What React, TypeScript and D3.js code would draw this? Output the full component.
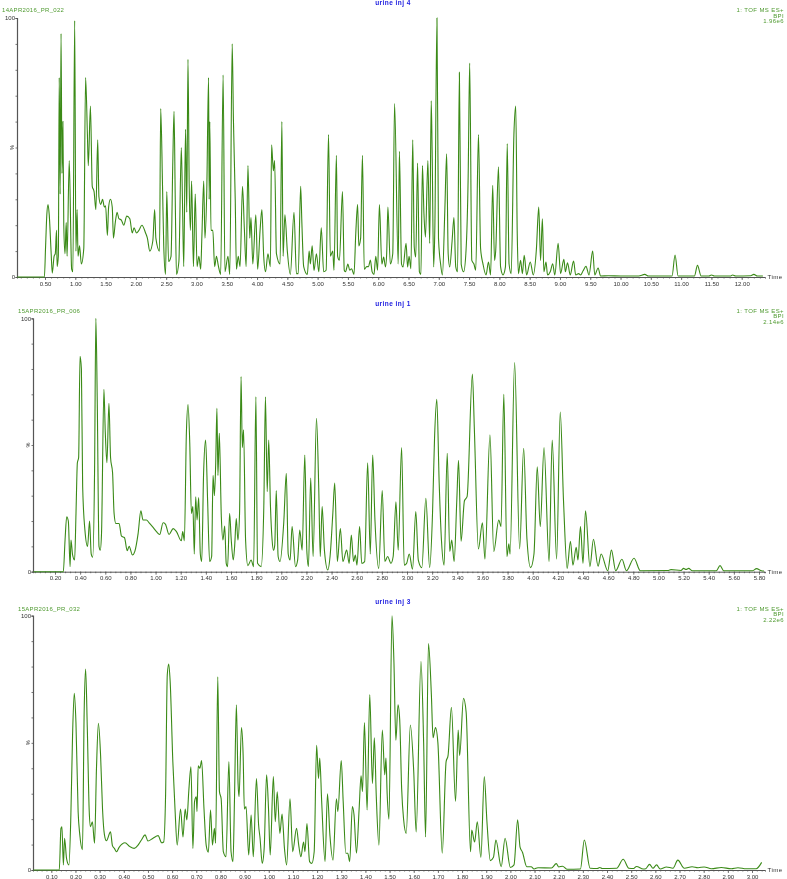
import React, { useEffect, useRef } from 'react';
import * as d3 from 'd3';

type Pt = [number, number];

// [retention time (min), base peak intensity (%)]
const inj4Early: Pt[] = [
  [0.04, 0], [0.49, 0], [0.51, 12], [0.53, 24], [0.55, 28], [0.57, 24], [0.6, 10], [0.62, 1.5], [0.65, 8], [0.67, 9],
  [0.69, 18], [0.7, 4], [0.72, 8], [0.735, 77], [0.75, 32], [0.765, 94], [0.78, 40], [0.795, 60], [0.81, 20],
  [0.83, 9], [0.85, 21], [0.865, 8], [0.9, 45], [0.94, 3], [0.96, 2], [0.99, 99], [1.01, 10], [1.03, 26], [1.045, 8],
  [1.07, 12], [1.1, 5], [1.14, 11], [1.17, 77], [1.2, 55], [1.215, 43], [1.25, 66], [1.28, 35], [1.31, 33],
  [1.34, 26], [1.37, 53], [1.39, 31], [1.42, 28], [1.45, 30], [1.48, 27], [1.5, 27.5], [1.53, 16], [1.55, 27],
  [1.58, 30], [1.61, 27], [1.63, 15], [1.66, 21], [1.69, 25], [1.72, 22.5], [1.76, 22], [1.8, 20], [1.85, 23.5],
  [1.9, 22.5], [1.94, 17], [1.97, 19], [2.01, 17], [2.05, 18], [2.1, 20], [2.16, 17], [2.19, 15], [2.23, 10],
  [2.28, 14], [2.31, 26], [2.33, 15], [2.39, 10], [2.41, 65], [2.44, 35], [2.46, 12], [2.49, 1], [2.51, 33],
  [2.54, 6], [2.58, 8], [2.61, 45], [2.63, 64], [2.65, 30], [2.67, 1], [2.71, 6], [2.75, 50], [2.77, 28], [2.79, 4],
  [2.82, 57], [2.84, 25], [2.86, 84], [2.88, 36], [2.9, 18], [2.92, 37], [2.95, 4], [2.98, 32], [3.01, 4], [3.04, 8],
  [3.07, 3], [3.09, 16], [3.12, 37], [3.14, 15], [3.17, 33], [3.2, 77], [3.21, 30], [3.22, 60], [3.24, 18], [3.27, 18],
  [3.3, 4], [3.33, 8], [3.36, 4.5], [3.4, 1], [3.44, 78], [3.47, 2], [3.52, 8], [3.55, 1], [3.59, 90], [3.61, 61],
  [3.64, 30], [3.66, 3], [3.69, 8], [3.72, 4], [3.76, 35], [3.79, 19], [3.82, 4], [3.85, 43], [3.88, 15], [3.9, 23],
  [3.93, 5], [3.98, 24], [4.01, 3], [4.05, 18], [4.08, 26], [4.11, 8], [4.14, 2], [4.18, 9], [4.22, 4], [4.24, 51],
  [4.27, 41], [4.29, 45], [4.32, 9], [4.38, 5], [4.41, 60], [4.43, 8], [4.46, 24], [4.5, 10], [4.55, 1], [4.61, 25],
  [4.65, 1.3], [4.68, 1.3], [4.72, 35], [4.74, 21], [4.77, 4], [4.83, 1], [4.86, 10], [4.88, 5], [4.91, 12], [4.94, 2.5],
  [4.98, 9], [5.02, 2], [5.06, 19], [5.1, 2], [5.14, 2.6], [5.18, 55], [5.21, 8], [5.25, 10], [5.27, 2.6], [5.31, 47],
  [5.33, 8], [5.36, 6.5], [5.41, 33], [5.44, 2.6], [5.46, 2], [5.5, 5], [5.53, 2.6], [5.56, 3.2], [5.6, 1], [5.63, 17],
  [5.66, 28], [5.68, 12], [5.71, 15], [5.74, 47], [5.77, 3], [5.81, 4], [5.84, 4], [5.87, 6.5], [5.9, 2], [5.93, 1],
  [5.96, 8], [5.99, 2.6], [6.02, 28], [6.06, 5], [6.09, 7.7], [6.12, 3.9], [6.14, 9], [6.16, 27], [6.2, 5], [6.24, 9],
];
const inj4Late: Pt[] = [
  [6.27, 67], [6.33, 5], [6.35, 48.5], [6.385, 5], [6.41, 3.9], [6.46, 13], [6.485, 3.9], [6.51, 8], [6.54, 3.2],
  [6.57, 53], [6.595, 11.6], [6.62, 7.7], [6.65, 44], [6.68, 2], [6.705, 1], [6.73, 43], [6.755, 24.5], [6.78, 15.4],
  [6.82, 45], [6.85, 13], [6.875, 68], [6.89, 49], [6.915, 3.9], [6.935, 19], [6.97, 100], [6.995, 15], [7.03, 5],
  [7.06, 0.8], [7.1, 26], [7.13, 47.6], [7.155, 9], [7.18, 3.9], [7.22, 14], [7.25, 23], [7.28, 3.9], [7.31, 2],
  [7.34, 79], [7.37, 5], [7.41, 2], [7.45, 10.3], [7.485, 39], [7.51, 82.6], [7.545, 6.4], [7.58, 5], [7.61, 2.6],
  [7.655, 55], [7.69, 11], [7.73, 5], [7.78, 0.8], [7.82, 5.8], [7.855, 0.8], [7.89, 35.4], [7.92, 6.4], [7.94, 10.3],
  [7.985, 42.5], [8.02, 3.9], [8.06, 0.8], [8.1, 3.9], [8.13, 51.5], [8.16, 5], [8.195, 1.3], [8.24, 55], [8.27, 66],
  [8.295, 16.7], [8.315, 1.3], [8.35, 6.4], [8.38, 1.3], [8.41, 8.4], [8.45, 0.8], [8.51, 5.8], [8.56, 0.8], [8.61, 10.3],
  [8.65, 27], [8.68, 6.4], [8.71, 22.5], [8.735, 2], [8.77, 5.8], [8.795, 0.8], [8.84, 2], [8.88, 5.1], [8.915, 0.8],
  [8.97, 13], [9.01, 1.3], [9.065, 6.8], [9.09, 2], [9.125, 5.5], [9.17, 0.8], [9.225, 6.2], [9.26, 0.8], [9.31, 1.3],
  [9.34, 0.8], [9.38, 2.3], [9.43, 4.1], [9.48, 0.8], [9.54, 10], [9.575, 0.8], [9.63, 3.5], [9.67, 0.4], [9.8, 0.5],
  [10.0, 0.4], [10.3, 0.4], [10.4, 1], [10.46, 0.4], [10.85, 0.4], [10.9, 8.5], [10.95, 0.4], [11.22, 0.4], [11.27, 4.5],
  [11.33, 0.4], [11.46, 0.4], [11.5, 0.8], [11.55, 0.4], [11.82, 0.4], [11.85, 0.8], [11.9, 0.4], [12.15, 0.5],
  [12.2, 1], [12.26, 0.4], [12.35, 0.4],
];

const inj1Early: Pt[] = [
  [0.03, 0], [0.266, 0], [0.28, 12.5], [0.293, 21.7], [0.306, 20], [0.32, 2], [0.327, 12.5], [0.34, 6.6], [0.356, 4.6],
  [0.367, 23], [0.378, 43], [0.388, 45], [0.399, 85], [0.41, 80], [0.42, 33.5], [0.438, 16.4], [0.459, 10], [0.475, 20],
  [0.488, 7], [0.5, 5.7], [0.515, 41], [0.525, 100], [0.536, 68], [0.55, 10], [0.56, 8.5], [0.57, 15], [0.589, 72],
  [0.6, 55], [0.613, 43], [0.629, 66.5], [0.642, 45], [0.658, 39], [0.67, 23], [0.684, 19], [0.71, 19], [0.729, 14],
  [0.753, 13.4], [0.774, 8.3], [0.79, 10], [0.816, 6.6], [0.835, 8], [0.861, 15], [0.883, 24], [0.9, 20.4], [0.927, 20.4],
  [0.949, 19.3], [0.975, 17.8], [1.007, 15.8], [1.033, 14.7], [1.06, 19.3], [1.078, 18.8], [1.107, 14.7], [1.14, 17],
  [1.166, 15.8], [1.205, 12.2], [1.216, 15.8], [1.229, 12.2], [1.245, 54.6], [1.258, 66], [1.272, 50.7], [1.285, 23],
  [1.297, 25.7], [1.308, 7], [1.319, 29.6], [1.33, 20.4], [1.343, 29.3], [1.356, 7], [1.367, 4], [1.382, 38.8], [1.398, 52],
  [1.414, 28], [1.43, 4], [1.446, 6], [1.457, 38], [1.468, 30], [1.478, 42], [1.488, 64.5], [1.496, 38], [1.507, 54.6],
  [1.523, 21.7], [1.536, 12.5], [1.55, 18], [1.562, 3.3], [1.573, 2], [1.589, 23], [1.602, 12.5], [1.618, 4.6],
  [1.629, 10], [1.642, 21], [1.655, 12.5], [1.668, 23], [1.68, 77], [1.69, 49], [1.70, 56], [1.716, 12.5], [1.734, 2.4],
  [1.76, 4.6], [1.78, 2], [1.798, 69], [1.811, 3.3], [1.84, 2], [1.861, 25.7], [1.874, 69], [1.888, 31.6], [1.9, 52],
  [1.914, 25.7], [1.927, 12.5], [1.938, 8.5], [1.948, 10.5], [1.96, 32], [1.975, 6], [1.99, 4], [2.02, 19.7], [2.04, 38.8],
  [2.055, 7], [2.07, 4.6], [2.086, 17.8], [2.113, 2], [2.13, 4.6], [2.147, 16.4], [2.166, 8.5], [2.187, 46], [2.203, 8.5],
  [2.216, 2], [2.234, 37], [2.253, 6], [2.28, 60.5], [2.298, 33], [2.31, 6], [2.325, 25.7], [2.343, 8.5], [2.37, 0.7],
  [2.388, 6], [2.41, 23], [2.425, 35], [2.446, 4], [2.47, 17], [2.49, 4], [2.52, 8.5], [2.54, 3.3], [2.557, 14.5],
  [2.575, 4], [2.589, 6.6], [2.602, 2.6], [2.623, 17.8], [2.64, 3.3], [2.663, 4], [2.687, 43], [2.708, 7], [2.727, 46],
  [2.745, 20.4], [2.775, 1.3], [2.803, 32], [2.824, 4], [2.846, 6], [2.872, 3.3],
];
const inj1Late: Pt[] = [
  [2.89, 6], [2.912, 27.6], [2.93, 8.5], [2.957, 49], [2.978, 2.6], [2.997, 3.3], [3.018, 7], [3.044, 1], [3.07, 23.7],
  [3.09, 4.6], [3.118, 1.6], [3.15, 29], [3.18, 1.6], [3.203, 23], [3.219, 52.6], [3.237, 68], [3.256, 35], [3.274, 12.5],
  [3.295, 2.6], [3.32, 46.7], [3.34, 8], [3.356, 12.5], [3.375, 4], [3.396, 28], [3.41, 44], [3.43, 12], [3.457, 28],
  [3.478, 29.6], [3.52, 78], [3.536, 56], [3.568, 9], [3.6, 19.3], [3.62, 5], [3.66, 54], [3.69, 8], [3.73, 20.4],
  [3.748, 17.8], [3.77, 70], [3.795, 6], [3.81, 11], [3.82, 7], [3.856, 82.5], [3.896, 9], [3.928, 48.7], [3.954, 13],
  [3.983, 1.6], [4.01, 7], [4.036, 41.4], [4.06, 17.8], [4.09, 49], [4.13, 4], [4.155, 52], [4.19, 5], [4.219, 63],
  [4.245, 28], [4.274, 1.3], [4.3, 12], [4.32, 2.6], [4.346, 9.6], [4.36, 4.6], [4.38, 17.8], [4.4, 3.3], [4.42, 24],
  [4.455, 2], [4.483, 12.8], [4.52, 2.2], [4.544, 7], [4.597, 0.4], [4.626, 8.5], [4.66, 0.4], [4.71, 4.9], [4.745, 0.4],
  [4.806, 5.3], [4.856, 0.4], [5.08, 0.5], [5.1, 0.8], [5.18, 0.5], [5.2, 1.3], [5.22, 0.9], [5.24, 1.3], [5.27, 0.4],
  [5.46, 0.4], [5.49, 2.4], [5.52, 0.4], [5.75, 0.4], [5.78, 1.2], [5.82, 0.4], [5.84, 0.3],
];

const inj3Early: Pt[] = [
  [0.026, 0], [0.133, 0], [0.14, 16.4], [0.144, 17], [0.15, 2], [0.155, 12.5], [0.163, 4.6], [0.173, 2], [0.181, 21.6],
  [0.188, 53], [0.195, 69.5], [0.202, 58], [0.211, 23], [0.218, 13.8], [0.229, 8], [0.236, 62], [0.242, 79], [0.249, 55.7],
  [0.257, 23], [0.262, 17], [0.27, 19], [0.279, 10.5], [0.287, 40], [0.295, 57.7], [0.304, 45], [0.312, 24], [0.32, 13.8],
  [0.328, 11.5], [0.345, 15], [0.353, 9.6], [0.361, 8.5], [0.37, 7.2], [0.38, 8.8], [0.405, 10.7], [0.425, 9.2],
  [0.443, 8.5], [0.459, 9.8], [0.473, 11.8], [0.488, 13.8], [0.5, 11.4], [0.521, 12.5], [0.542, 13.5], [0.557, 10.7],
  [0.565, 11], [0.573, 29.5], [0.58, 76.7], [0.586, 81], [0.592, 74], [0.603, 42.6], [0.612, 24], [0.621, 9.8], [0.635, 24],
  [0.645, 13], [0.654, 24], [0.661, 19.7], [0.669, 31], [0.678, 40.6], [0.686, 8.5], [0.693, 27], [0.7, 28.8], [0.703, 23],
  [0.708, 41], [0.715, 40], [0.722, 43], [0.732, 24], [0.741, 9.8], [0.75, 7], [0.759, 23.6], [0.767, 9.8], [0.775, 16.4],
  [0.78, 10.5], [0.789, 76], [0.796, 30.8], [0.803, 28], [0.812, 7.2], [0.823, 5.2], [0.835, 42.6], [0.844, 7.2],
  [0.852, 3.3], [0.858, 27], [0.866, 65], [0.873, 34], [0.877, 28.8], [0.887, 56], [0.894, 45], [0.899, 24], [0.906, 25],
  [0.917, 5.9], [0.927, 21.6], [0.936, 5.2], [0.949, 36], [0.958, 17.7], [0.964, 12.5], [0.973, 2.6], [0.981, 8.5],
  [0.991, 37.4], [0.999, 24], [1.006, 5.9], [1.019, 36.7], [1.027, 19], [1.035, 30.8], [1.046, 14.4], [1.055, 22],
  [1.065, 8.5], [1.074, 2], [1.088, 28], [1.099, 7.2], [1.115, 16.4], [1.124, 9.8], [1.133, 5.2], [1.144, 11], [1.15, 7.2],
  [1.158, 18.3], [1.169, 3.3], [1.178, 2.6], [1.188, 7.2], [1.198, 49], [1.206, 36], [1.211, 44], [1.219, 27], [1.233, 3.3],
  [1.243, 30], [1.253, 13.8], [1.266, 3.9], [1.28, 28], [1.286, 23], [1.3, 43], [1.308, 27], [1.319, 6.6], [1.327, 6.6],
  [1.335, 3.3], [1.346, 25], [1.353, 21.6], [1.363, 6.6], [1.374, 24], [1.382, 37], [1.388, 30.8], [1.396, 58],
  [1.407, 23.6], [1.418, 69], [1.429, 34], [1.437, 52], [1.445, 29], [1.456, 9.8], [1.47, 55], [1.48, 37.4], [1.485, 44],
  [1.49, 30], [1.4975, 20],
];
const inj3Late: Pt[] = [
  [1.51, 100], [1.518, 82], [1.526, 51], [1.535, 65], [1.542, 59], [1.55, 32], [1.558, 20], [1.569, 14.4], [1.586, 57],
  [1.6, 38.7], [1.61, 15], [1.63, 82], [1.641, 50], [1.649, 13], [1.661, 89], [1.673, 69], [1.68, 52], [1.69, 56],
  [1.7, 50], [1.718, 6.6], [1.734, 42.6], [1.742, 45], [1.756, 64], [1.773, 27], [1.784, 55], [1.79, 45], [1.806, 67.5],
  [1.817, 62], [1.835, 7.2], [1.84, 15.7], [1.852, 11], [1.863, 19], [1.878, 5], [1.892, 36.7], [1.903, 19], [1.917, 3.7],
  [1.93, 5], [1.94, 11.8], [1.962, 1.3], [1.978, 12.5], [2.0, 1], [2.015, 2], [2.03, 19.7], [2.04, 9], [2.05, 7],
  [2.068, 1.3], [2.086, 1.3], [2.098, 0.4], [2.114, 0.9], [2.17, 0.8], [2.19, 2.5], [2.2, 1.2], [2.216, 1.5], [2.234, 0.3],
  [2.29, 0.4], [2.306, 11.8], [2.33, 0.7], [2.36, 0.6], [2.37, 1], [2.38, 0.6], [2.44, 0.7], [2.467, 4.2], [2.49, 0.7],
  [2.51, 0.6], [2.522, 1.4], [2.55, 0.4], [2.56, 0.5], [2.576, 2.2], [2.59, 0.7], [2.605, 2], [2.62, 0.4], [2.646, 1.2],
  [2.673, 0.7], [2.693, 3.9], [2.72, 0.7], [2.752, 1.3], [2.777, 0.9], [2.802, 1.2], [2.832, 0.5], [2.873, 1], [2.914, 0.5],
  [2.942, 0.9], [2.976, 0.5], [3.017, 0.5], [3.04, 3],
];

const inj4Ticks = d3.range(0.5, 12.01, 0.5);
const inj1Ticks = d3.range(0.2, 5.81, 0.2);
const inj3Ticks = d3.range(0.1, 3.01, 0.1);

const green = '#4f9a30';
const axisGrey = '#555';

type PanelCfg = {
  title: string; file: string; scale: string; data: Pt[]; ticks: number[]; minorStep: number;
  xDomain: [number, number]; xRange: [number, number]; yRange: [number, number]; head: number;
};

const panels: PanelCfg[] = [
  { title: 'urine inj 4', file: '14APR2016_PR_022', scale: '1.96e6', data: [...inj4Early, ...inj4Late], ticks: inj4Ticks, minorStep: 0.1,
    xDomain: [0.5, 12], xRange: [45, 741.7], yRange: [277, 18], head: 3 },
  { title: 'urine inj 1', file: '15APR2016_PR_006', scale: '2.14e6', data: [...inj1Early, ...inj1Late], ticks: inj1Ticks, minorStep: 0.04,
    xDomain: [0.2, 5.8], xRange: [55, 759], yRange: [571.7, 318.3], head: 303.5 },
  { title: 'urine inj 3', file: '15APR2016_PR_032', scale: '2.22e6', data: [...inj3Early, ...inj3Late], ticks: inj3Ticks, minorStep: 0.02,
    xDomain: [0.1, 3], xRange: [51.3, 752], yRange: [870, 615.7], head: 601.7 },
];

export default function App() {
  const ref = useRef<SVGSVGElement>(null);

  useEffect(() => {
    const svg = d3.select(ref.current);
    svg.selectAll('*').remove();

    const defs = svg.append('defs');
    defs.append('filter').attr('id', 'soft').attr('x', '-5%').attr('y', '-5%').attr('width', '110%').attr('height', '110%')
      .append('feGaussianBlur').attr('stdDeviation', 0.45);

    panels.forEach((p, idx) => {
      const g = svg.append('g').attr('filter', 'url(#soft)');
      const x = d3.scaleLinear().domain(p.xDomain).range(p.xRange);
      const y = d3.scaleLinear().domain([0, 100]).range(p.yRange);
      const left = idx === 0 ? 17 : 33;
      const right = 765;
      const x0 = x.invert(left);
      const x1 = x.invert(right);

      // minor ticks first, then labelled ones on top
      const minor = d3.range(Math.ceil(x0 / p.minorStep), Math.floor(x1 / p.minorStep) + 1).map(k => k * p.minorStep);
      const minorAxis = g.append('g').attr('transform', `translate(0,${p.yRange[0]})`)
        .call(d3.axisBottom(x.copy().domain([x0, x1]).range([left, right])).tickValues(minor).tickSize(1.5).tickFormat(() => ''));
      minorAxis.select('.domain').attr('stroke', axisGrey).attr('stroke-width', 1);
      minorAxis.selectAll('.tick line').attr('stroke', axisGrey).attr('stroke-width', 0.8);

      const majorAxis = g.append('g').attr('transform', `translate(0,${p.yRange[0]})`)
        .call(d3.axisBottom(x).tickValues(p.ticks).tickSize(3).tickPadding(1.5).tickFormat(d => (+d).toFixed(2)));
      majorAxis.select('.domain').remove();
      majorAxis.selectAll('.tick line').attr('stroke', axisGrey).attr('stroke-width', 0.8);
      majorAxis.selectAll('text').attr('font-family', 'Liberation Sans').attr('font-size', 6).attr('fill', '#333');

      const yAxis = g.append('g').attr('transform', `translate(${left},0)`)
        .call(d3.axisLeft(y).tickValues(d3.range(0, 101, 10)).tickSize(1.5).tickPadding(0.5)
          .tickFormat(d => (+d === 0 || +d === 100 ? String(d) : '')));
      yAxis.select('.domain').attr('stroke', axisGrey).attr('stroke-width', 1.2);
      yAxis.selectAll('.tick line').attr('stroke', axisGrey).attr('stroke-width', 0.8);
      yAxis.selectAll('text').attr('font-family', 'Liberation Sans').attr('font-size', 6).attr('fill', '#333');

      g.append('text').attr('transform', `translate(${left - 3},${y(50)}) rotate(-90)`)
        .attr('text-anchor', 'middle').attr('font-family', 'Liberation Sans').attr('font-size', 5.5).attr('fill', '#333').text('%');

      g.append('text').attr('x', 767.5).attr('y', p.yRange[0] + 2).attr('font-family', 'Liberation Sans')
        .attr('font-size', 6.2).attr('letter-spacing', 0.4).attr('fill', '#333').text('Time');

      const line = d3.line<Pt>().x(d => x(d[0])).y(d => y(d[1])).curve(d3.curveMonotoneX);
      g.append('path').datum(p.data).attr('fill', 'none').attr('stroke', '#3a8a18').attr('stroke-width', 1.1).attr('d', line);

      const fileX = idx === 0 ? 2 : 18;
      g.append('text').attr('x', fileX).attr('y', p.head + 9).attr('font-family', 'Liberation Sans').attr('font-size', 6)
        .attr('letter-spacing', 0.3).attr('fill', green).text(p.file);
      g.append('text').attr('x', 393).attr('y', p.head + 2).attr('text-anchor', 'middle').attr('font-family', 'Liberation Sans')
        .attr('font-size', 6.5).attr('font-weight', 'bold').attr('letter-spacing', 0.45).attr('fill', '#2020e0').text(p.title);
      ['1: TOF MS ES+', 'BPI', p.scale].forEach((t, i) => {
        g.append('text').attr('x', 784).attr('y', p.head + 9 + i * 5.6).attr('text-anchor', 'end')
          .attr('font-family', 'Liberation Sans').attr('font-size', 6).attr('letter-spacing', 0.4).attr('fill', green).text(t);
      });
    });
  }, []);

  return <svg ref={ref} width={787} height={879} style={{ position: 'absolute', left: 0, top: 0, background: '#fff' }} />;
}
